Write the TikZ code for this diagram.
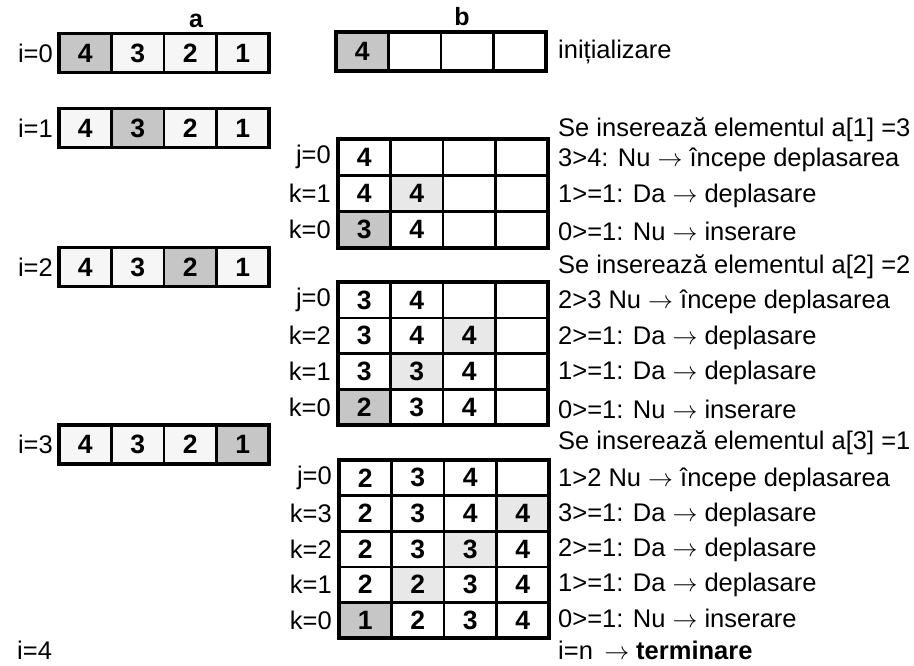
\documentclass[tikz,border=0pt]{standalone}
\usepackage{fontspec}
\setmainfont{Liberation Sans}
\usetikzlibrary{positioning}
% one row of four cells: name, left x, centre y, height, value/style list
\newcommand\cellrow[5]{%
  \foreach \v/\s [count=\c] in {#5}{%
    \node[cell=#4,\s] (#1-\c) at ({#2+(\c-0.5)*52.5},#3) {\v};}}
\begin{document}
\begin{tikzpicture}[x=1pt,y=-1pt,
  txt/.style={font=\fontsize{25.5}{27}\selectfont, inner sep=0pt},
  head/.style={font=\bfseries\fontsize{25}{27}\selectfont, inner sep=0pt},
  cell/.style={draw, line width=2.6pt, minimum width=52.5pt, minimum height=#1,
    inner sep=0pt, outer sep=0pt, font=\bfseries\fontsize{26.5}{27}\selectfont},
  cell/.default=36pt,
  cw/.style={fill=white}, cf/.style={fill=gray!7},
  cl/.style={fill=gray!18}, cd/.style={fill=gray!45},
  frame/.style={draw, line width=3.8pt}
]
\useasboundingbox (0,0) rectangle (914,665);

% column headings
\node[head] (ha) at (196,21) {a};
\node[head] (hb) at (462,17) {b};

% array a at each outer step
\cellrow{a0}{59}{53}{39pt}{4/cd,3/cf,2/cf,1/cf}
\cellrow{a1}{59}{128}{39pt}{4/cf,3/cd,2/cf,1/cf}
\cellrow{a2}{59}{267}{39pt}{4/cf,3/cf,2/cd,1/cf}
\cellrow{a3}{59}{444.5}{39pt}{4/cf,3/cf,2/cf,1/cd}
\foreach \n in {a0,a1,a2,a3}
  \draw[frame] (\n-1.north west) rectangle (\n-4.south east);
\node[txt, left=6pt of a0-1] (i0) {i=0};
\node[txt, left=6pt of a1-1] (i1) {i=1};
\node[txt, left=6pt of a2-1] (i2) {i=2};
\node[txt, left=6pt of a3-1] (i3) {i=3};
\node[txt, anchor=base west] (i4) at (17,659) {i=4};

% array b, initial state
\cellrow{b0}{336}{51.5}{39pt}{4/cd, /cw, /cw, /cw}
\draw[frame] (b0-1.north west) rectangle (b0-4.south east);

% insertion of a[1]
\cellrow{g1r1}{338}{157.2}{36.3pt}{4/cw, /cw, /cw, /cw}
\cellrow{g1r2}{338}{193.5}{36.3pt}{4/cw,4/cl, /cw, /cw}
\cellrow{g1r3}{338}{229.8}{36.3pt}{3/cd,4/cw, /cw, /cw}
\draw[frame] (g1r1-1.north west) rectangle (g1r3-4.south east);
\node[txt, left=7pt of g1r1-1] {j=0};
\node[txt, left=7pt of g1r2-1] {k=1};
\node[txt, left=7pt of g1r3-1] {k=0};

% insertion of a[2]
\cellrow{g2r1}{338}{299.9}{35.8pt}{3/cw,4/cw, /cw, /cw}
\cellrow{g2r2}{338}{335.7}{35.8pt}{3/cw,4/cw,4/cl, /cw}
\cellrow{g2r3}{338}{371.5}{35.8pt}{3/cw,3/cl,4/cw, /cw}
\cellrow{g2r4}{338}{407.3}{35.8pt}{2/cd,3/cw,4/cw, /cw}
\draw[frame] (g2r1-1.north west) rectangle (g2r4-4.south east);
\node[txt, left=7pt of g2r1-1] {j=0};
\node[txt, left=7pt of g2r2-1] {k=2};
\node[txt, left=7pt of g2r3-1] {k=1};
\node[txt, left=7pt of g2r4-1] {k=0};

% insertion of a[3]
\cellrow{g3r1}{339}{477.8}{35.6pt}{2/cw,3/cw,4/cw, /cw}
\cellrow{g3r2}{339}{513.4}{35.6pt}{2/cw,3/cw,4/cw,4/cl}
\cellrow{g3r3}{339}{549.0}{35.6pt}{2/cw,3/cw,3/cl,4/cw}
\cellrow{g3r4}{339}{584.6}{35.6pt}{2/cw,2/cl,3/cw,4/cw}
\cellrow{g3r5}{339}{620.2}{35.6pt}{1/cd,2/cw,3/cw,4/cw}
\draw[frame] (g3r1-1.north west) rectangle (g3r5-4.south east);
\node[txt, left=7pt of g3r1-1] {j=0};
\node[txt, left=7pt of g3r2-1] {k=3};
\node[txt, left=7pt of g3r3-1] {k=2};
\node[txt, left=7pt of g3r4-1] {k=1};
\node[txt, left=7pt of g3r5-1] {k=0};

% explanations
\begin{scope}[every node/.style={txt, anchor=west}]
\node (t0) at (558,52) {inițializare};
\node (t1) at (558,130) {Se inserează elementul a[1] =3};
\node at (558,160) {3>4: Nu $\rightarrow$ începe deplasarea};
\node at (558,196) {1>=1: Da $\rightarrow$ deplasare};
\node at (558,231) {0>=1: Nu $\rightarrow$ inserare};
\node (t2) at (558,267) {Se inserează elementul a[2] =2};
\node at (558,302) {2>3 Nu $\rightarrow$ începe deplasarea};
\node at (558,338) {2>=1: Da $\rightarrow$ deplasare};
\node at (558,373) {1>=1: Da $\rightarrow$ deplasare};
\node at (558,409) {0>=1: Nu $\rightarrow$ inserare};
\node (t3) at (558,443) {Se inserează elementul a[3] =1};
\node at (558,480) {1>2 Nu $\rightarrow$ începe deplasarea};
\node at (558,515) {3>=1: Da $\rightarrow$ deplasare};
\node at (558,550) {2>=1: Da $\rightarrow$ deplasare};
\node at (558,585) {1>=1: Da $\rightarrow$ deplasare};
\node at (558,618) {0>=1: Nu $\rightarrow$ inserare};
\node[anchor=base west] (tn) at (558,659) {i=n \,$\rightarrow$ \textbf{terminare}};
\end{scope}
\end{tikzpicture}
\end{document}
